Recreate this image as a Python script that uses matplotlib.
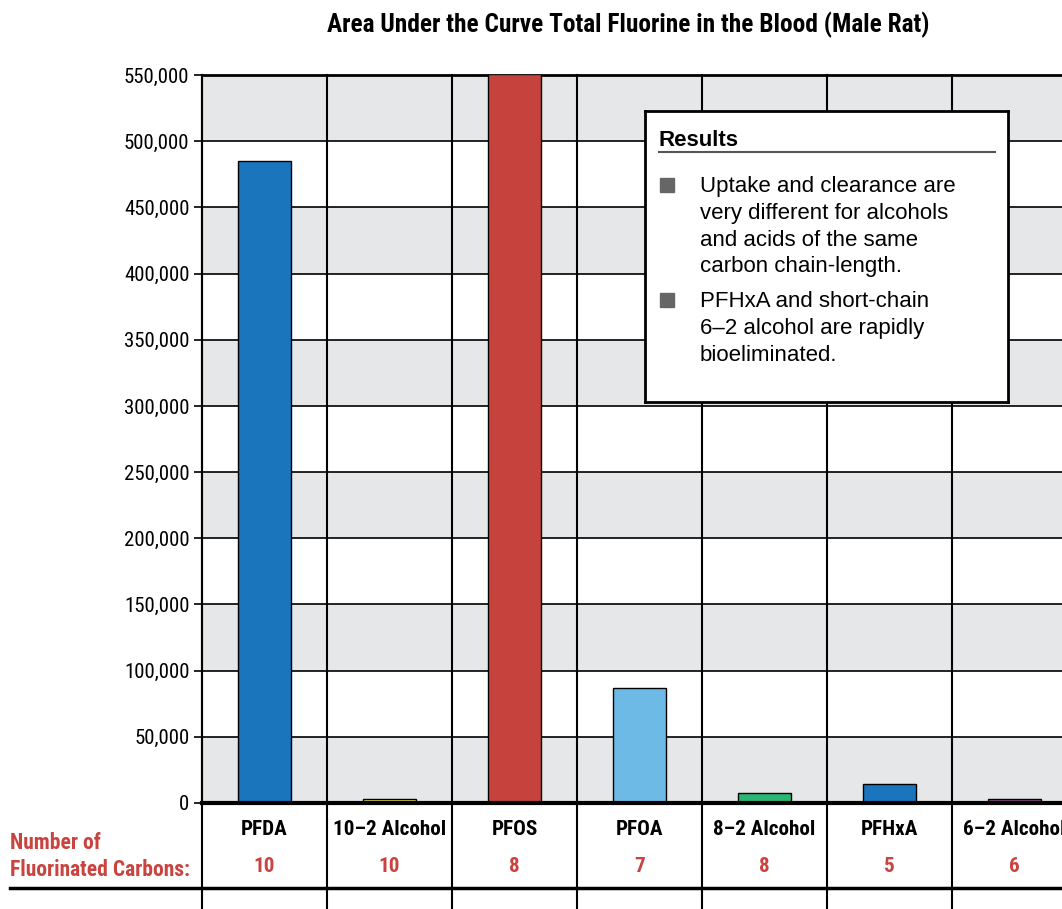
import matplotlib
matplotlib.use("Agg")
import matplotlib.pyplot as plt
from matplotlib.lines import Line2D
from matplotlib.transforms import blended_transform_factory

COND = ['Roboto Condensed', 'Fira Sans Condensed', 'DejaVu Sans']
PLAIN = ['Liberation Sans', 'DejaVu Sans']
plt.rcParams['font.family'] = COND

compounds = ["PFDA", "10\u20132 Alcohol", "PFOS", "PFOA", "8\u20132 Alcohol", "PFHxA", "6\u20132 Alcohol"]
auc_values = [485000, 3000, 551000, 87000, 7500, 14500, 3000]
fluorinated_carbons = [10, 10, 8, 7, 8, 5, 6]
bar_colors = ["#1b75bc", "#e9dc4a", "#c5423d", "#6dbae6", "#2db673", "#1b75bc", "#9a4d94"]
y_ticks = list(range(0, 550001, 50000))

results_title = "Results"
results_points = [
    "Uptake and clearance are\nvery different for alcohols\nand acids of the same\ncarbon chain-length.",
    "PFHxA and short-chain\n6\u20132 alcohol are rapidly\nbioeliminated.",
]

RED = "#c9433f"
W, H = 1062, 909

fig = plt.figure(figsize=(W / 100, H / 100), dpi=100)
ax = fig.add_axes([202 / W, (H - 803) / H, 875 / W, 728 / H])
ax.set_xlim(0, len(compounds))
ax.set_ylim(0, 550000)

# alternating grey / white bands
for i, lo in enumerate(y_ticks[:-1]):
    if i % 2 == 0:
        ax.axhspan(lo, lo + 50000, color="#e6e7e9", zorder=0, lw=0)

for y in y_ticks[1:-1]:
    ax.axhline(y, color="black", lw=1.2, zorder=1)

xs = [i + 0.5 for i in range(len(compounds))]
ax.bar(xs, auc_values, width=0.43, color=bar_colors, edgecolor="black",
       linewidth=1, zorder=3, clip_on=True)

for s in ["right", "bottom"]:
    ax.spines[s].set_visible(False)
ax.spines["top"].set_linewidth(2)
ax.spines["left"].set_linewidth(1.5)
ax.axhline(0, color="black", lw=3, zorder=4, clip_on=False)

# column dividers run through the table below the plot
trans = blended_transform_factory(ax.transData, ax.transAxes)
for i in range(1, len(compounds) + 1):
    ax.plot([i, i], [1, -0.16], color="black", lw=1.5, transform=trans,
            clip_on=False, zorder=2)
ax.plot([0, 0], [1, -0.16], color="black", lw=1.5, transform=trans,
        clip_on=False, zorder=5)

ax.set_xticks([])
ax.set_yticks(y_ticks)
ax.set_yticklabels([f"{v:,}" for v in y_ticks], fontsize=15)
ax.tick_params(axis="y", direction="out", length=6, width=1.2, pad=3)

for x, name, n in zip(xs, compounds, fluorinated_carbons):
    ax.text(x, -0.037, name, transform=trans, ha="center", va="center",
            fontsize=15.2, fontweight="bold")
    ax.text(x, -0.087, str(n), transform=trans, ha="center", va="center",
            fontsize=15.2, fontweight="bold", color=RED)

fig.text(10 / W, 1 - 843 / H, "Number of", color=RED, fontsize=15.5,
         fontweight="bold", ha="left", va="center")
fig.text(10 / W, 1 - 870 / H, "Fluorinated Carbons:", color=RED, fontsize=15.5,
         fontweight="bold", ha="left", va="center")
fig.add_artist(Line2D([10 / W, 1], [1 - 888 / H] * 2, color="black", lw=2.5))

fig.text(628 / W, 1 - 25 / H, "Area Under the Curve Total Fluorine in the Blood (Male Rat)",
         ha="center", va="center", fontsize=18.3, fontweight="bold")

# results panel
box = fig.add_axes([645 / W, 1 - 402 / H, 363 / W, 291 / H])
box.set_xlim(0, 363)
box.set_ylim(291, 0)
box.set_xticks([])
box.set_yticks([])
for s in box.spines.values():
    s.set_linewidth(2)
box.set_zorder(10)
box.text(14, 29, results_title, fontsize=16, fontweight="bold",
         family=PLAIN, va="center")
box.plot([14, 350], [41, 41], color="#555555", lw=1.5)
for top, txt in zip([74, 189], results_points):
    box.add_patch(plt.Rectangle((15, top - 7), 14, 14, color="#666666"))
    box.text(55, top - 9, txt, fontsize=16, va="top", linespacing=1.36,
             family=PLAIN)

fig.savefig("out.png", dpi=100)
